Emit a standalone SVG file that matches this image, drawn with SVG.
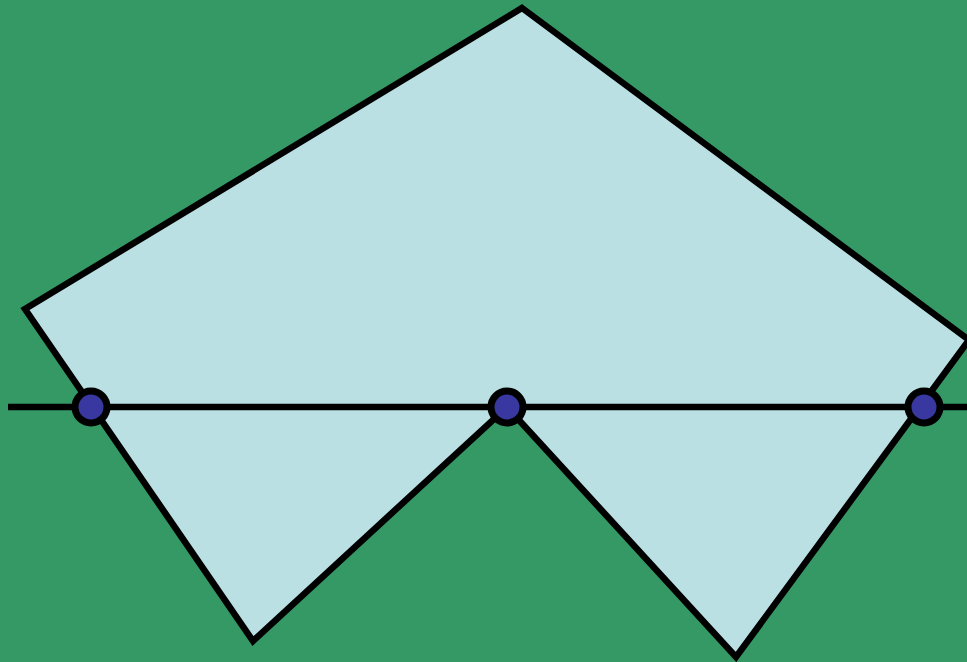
<svg xmlns="http://www.w3.org/2000/svg" width="967" height="662" viewBox="0 0 967 662">
<style>
.shape{fill:#bae0e3;stroke:#000;stroke-width:6.5;stroke-linejoin:miter}
.line{stroke:#000;stroke-width:6.5;fill:none}
.pt{fill:#3838a0;stroke:#000;stroke-width:7}
</style>
<rect width="967" height="662" fill="#359966"/>
<g id="polygon">
<polygon class="shape" points="522,8 969,340 736,657 507,407 253,641 25,309"/>
</g>
<g id="connectors">
<line class="line" x1="8" y1="407" x2="967" y2="407"/>
</g>
<g id="p1"><circle class="pt" cx="91" cy="407" r="16"/></g>
<g id="p2"><circle class="pt" cx="507" cy="407" r="16"/></g>
<g id="p3"><circle class="pt" cx="924" cy="407" r="16"/></g>
</svg>
